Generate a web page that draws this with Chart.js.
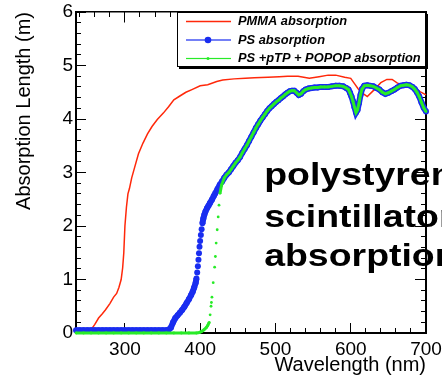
<!DOCTYPE html>
<html>
<head>
<meta charset="utf-8">
<script src="https://cdn.jsdelivr.net/npm/chart.js@4.4.0/dist/chart.umd.min.js"></script>
<style>
  html, body { margin: 0; padding: 0; background: #fff; }
  canvas { display: block; }
</style>
</head>
<body>
<canvas id="absChart" width="442" height="379"></canvas>
<script>
// axis labels
const xTickLabels = [300, 400, 500, 600, 700];
const yTickLabels = [0, 1, 2, 3, 4, 5, 6];

// PMMA absorption length (m) vs wavelength (nm)
const pmmaWl = [235, 245, 252, 256, 260, 265, 270, 274, 280, 285, 289, 292, 295, 297, 298.5,
  300, 302, 304, 306, 309, 313, 318, 324, 330, 336, 343, 351, 358, 365, 373, 381, 389,
  400, 410, 422, 430, 445, 460, 472, 490, 505, 516, 530, 545, 558, 570, 580, 592, 600,
  605, 610, 617, 622, 630, 640, 648, 655, 662, 670, 679, 686, 692, 700];
const pmmaAbs = [0.02, 0.02, 0.03, 0.08, 0.16, 0.28, 0.36, 0.43, 0.55, 0.67, 0.74, 0.85, 1.0, 1.22, 1.5,
  2.0, 2.35, 2.6, 2.7, 2.9, 3.1, 3.35, 3.55, 3.72, 3.86, 3.99, 4.11, 4.23, 4.36, 4.43, 4.5, 4.55,
  4.62, 4.64, 4.70, 4.73, 4.75, 4.76, 4.77, 4.78, 4.79, 4.80, 4.80, 4.76, 4.79, 4.82, 4.82, 4.78, 4.76,
  4.66, 4.56, 4.47, 4.42, 4.53, 4.68, 4.74, 4.74, 4.67, 4.64, 4.60, 4.57, 4.51, 4.45];

// plain polystyrene
const psWl = [235, 240, 245, 250, 255, 260, 265, 270, 275, 280, 285, 290, 295, 300, 305, 310,
  315, 320, 325, 330, 335, 340, 345, 350, 355, 358, 361, 364, 367, 370, 373, 376, 379, 382,
  385, 388, 390, 392, 394, 395, 396, 396.9, 397.7, 398.4, 399.1, 399.9, 400.9, 401.9, 403,
  404.2, 405.5, 407, 409, 411, 413, 415.5, 418, 420, 423, 426, 429, 432, 435, 438, 441, 444,
  447, 450, 453, 456, 459, 462, 465, 468, 471, 474, 477, 480, 483, 486, 489, 492, 495, 498,
  501, 504, 507, 510, 513, 516, 519, 522, 525, 528, 531, 534, 537, 540, 544, 548, 552, 556,
  560, 565, 570, 575, 580, 585, 590, 594, 597, 599, 601, 603, 605, 607, 609, 611, 613, 615,
  618, 622, 626, 630, 634, 638, 642, 646, 650, 654, 658, 662, 666, 670, 674, 678, 682, 685,
  688, 691, 694, 697, 700];
const psAbs = [0.05, 0.05, 0.05, 0.05, 0.05, 0.05, 0.05, 0.05, 0.05, 0.05, 0.05, 0.05, 0.05, 0.05, 0.05, 0.05,
  0.05, 0.05, 0.05, 0.05, 0.05, 0.05, 0.05, 0.05, 0.05, 0.06, 0.10, 0.20, 0.28, 0.33, 0.38, 0.43, 0.49, 0.56,
  0.63, 0.71, 0.77, 0.85, 0.94, 1.02, 1.13, 1.25, 1.37, 1.49, 1.61, 1.72, 1.83, 1.94, 2.05,
  2.14, 2.21, 2.27, 2.33, 2.38, 2.43, 2.49, 2.56, 2.61, 2.69, 2.77, 2.83, 2.90, 2.96, 3.00, 3.06, 3.12,
  3.18, 3.23, 3.29, 3.37, 3.44, 3.51, 3.59, 3.67, 3.75, 3.83, 3.90, 3.97, 4.03, 4.09, 4.15, 4.20, 4.24, 4.28,
  4.32, 4.35, 4.39, 4.42, 4.46, 4.49, 4.52, 4.53, 4.53, 4.49, 4.45, 4.47, 4.52, 4.55, 4.57, 4.58, 4.59, 4.59,
  4.60, 4.60, 4.60, 4.61, 4.62, 4.62, 4.61, 4.58, 4.55, 4.49, 4.42, 4.33, 4.22, 4.12, 4.17, 4.30, 4.45, 4.56,
  4.62, 4.63, 4.62, 4.61, 4.58, 4.55, 4.50, 4.47, 4.49, 4.52, 4.55, 4.59, 4.62, 4.63, 4.64, 4.63, 4.60, 4.56,
  4.50, 4.42, 4.31, 4.21, 4.14];

// polystyrene + pTP + POPOP
const wlsWl = [235, 245, 255, 265, 275, 285, 295, 305, 315, 325, 335, 345, 355, 365, 375, 385, 395,
  399, 402, 405, 408, 410, 412, 413.2, 414.4, 414.9, 415.6, 417.3, 419.2, 420.2, 421.2, 422.6,
  423.9, 425, 426.3, 428.5, 432, 435, 438, 441, 444, 447, 450, 453, 456, 459, 462, 465, 468,
  471, 474, 477, 480, 483, 486, 489, 492, 495, 498, 501, 504, 507, 510, 513, 516, 519, 522,
  525, 528, 531, 534, 537, 540, 544, 548, 552, 556, 560, 565, 570, 575, 580, 585, 590, 594,
  597, 599, 601, 603, 605, 607, 609, 611, 613, 615, 618, 622, 626, 630, 634, 638, 642, 646,
  650, 654, 658, 662, 666, 670, 674, 678, 682, 685, 688, 691, 694, 697, 700];
const wlsAbs = [0, 0, 0, 0, 0, 0, 0, 0, 0, 0, 0, 0, 0, 0, 0, 0, 0,
  0.01, 0.03, 0.06, 0.10, 0.14, 0.20, 0.34, 0.50, 0.57, 0.67, 0.94, 1.23, 1.43, 1.68, 1.93,
  2.17, 2.39, 2.61, 2.77, 2.90, 2.96, 3.00, 3.06, 3.12, 3.18, 3.23, 3.29, 3.37, 3.44, 3.51, 3.59, 3.67,
  3.75, 3.83, 3.90, 3.97, 4.03, 4.09, 4.15, 4.20, 4.24, 4.28, 4.32, 4.35, 4.39, 4.42, 4.46, 4.49, 4.52, 4.53,
  4.53, 4.49, 4.45, 4.47, 4.52, 4.55, 4.57, 4.58, 4.59, 4.59, 4.60, 4.60, 4.60, 4.61, 4.62, 4.62, 4.61, 4.58,
  4.55, 4.49, 4.42, 4.33, 4.22, 4.12, 4.17, 4.30, 4.45, 4.56, 4.62, 4.63, 4.62, 4.61, 4.58, 4.55, 4.50, 4.47,
  4.49, 4.52, 4.55, 4.59, 4.62, 4.63, 4.64, 4.63, 4.60, 4.56, 4.50, 4.42, 4.31, 4.21, 4.14];

const seriesNames = ['PMMA absorption', 'PS absorption', 'PS +pTP + POPOP absorption'];

// big caption inside the frame, anchored in data units
const noteLines = ['polystyrene', 'scintillator', 'absorption'];
const noteX = 485;
const noteY = [2.76, 1.99, 1.25];

// minor tick spacing
const xMinorTicks = [];
for (let w = 240; w <= 700; w += 20) xMinorTicks.push(w);
const yMinorTicks = [];
for (let k = 0; k <= 30; k++) yMinorTicks.push(k / 5);

const FAMILY = "'Liberation Sans', Arial, Helvetica, sans-serif";

function pairs(xs, ys) {
  return xs.map((v, i) => ({x: v, y: ys[i]}));
}

// glyphs here run a little wider than the font's own metrics
function wideText(ctx, text, x, y, wide) {
  ctx.save();
  ctx.translate(x, y);
  ctx.scale(wide, 1);
  ctx.fillText(text, 0, 0);
  ctx.restore();
}

function hLine(ctx, x1, x2, y, w) { ctx.fillRect(Math.min(x1, x2), y - w / 2, Math.abs(x2 - x1), w); }
function vLine(ctx, x, y1, y2, w) { ctx.fillRect(x - w / 2, Math.min(y1, y2), w, Math.abs(y2 - y1)); }

// where the curve climbs steeply only the markers show, no joining line
const steepGap = c => {
  const dx = c.p1.parsed.x - c.p0.parsed.x;
  const dy = c.p1.parsed.y - c.p0.parsed.y;
  return Math.abs(dy) > 0.095 * Math.abs(dx) ? 'rgba(0,0,0,0)' : undefined;
};

const RED = 'rgb(255,40,10)';
const BLUE = 'rgb(25,45,240)';
const GREEN = 'rgb(40,235,40)';

// an unlabeled axis pinned to one edge of the plot, used only for its
// tick marks; a negative length points the marks into the plot
function tickAxis(axis, at, values, len, edge) {
  return {
    type: 'linear',
    axis: axis,
    position: at,
    min: axis === 'x' ? 235 : 0,
    max: axis === 'x' ? 700 : 6,
    afterBuildTicks: s => { s.ticks = values.map(v => ({value: v})); },
    afterFit: s => { s.paddingLeft = 0; s.paddingRight = 0; s.paddingTop = 0; s.paddingBottom = 0; },
    grid: {display: true, drawOnChartArea: false, drawTicks: true, tickLength: len,
      color: '#000', tickColor: '#000', lineWidth: 1, tickWidth: 1},
    border: {display: !!edge, color: '#000', width: edge || 1},
    ticks: {display: false}
  };
}

function drawNote(chart) {
  const {ctx, scales: {x, y}} = chart;
  ctx.save();
  ctx.fillStyle = 'rgb(0,0,0)';
  ctx.font = 'bold 32px ' + FAMILY;
  ctx.textAlign = 'left';
  ctx.textBaseline = 'alphabetic';
  noteLines.forEach((t, i) => wideText(ctx, t, x.getPixelForValue(noteX), y.getPixelForValue(noteY[i]), 1.17));
  ctx.restore();
}

function drawKey(chart) {
  const {ctx, scales: {x, y}} = chart;
  const right = x.getPixelForValue(x.max);
  const box = {left: 177, top: y.getPixelForValue(y.max), width: right - 177, height: 55};
  ctx.save();
  ctx.fillStyle = 'rgb(0,0,0)';
  ctx.fillRect(box.left + 2, box.top + 2, box.width, box.height);
  ctx.fillStyle = 'rgb(255,255,255)';
  ctx.fillRect(box.left, box.top, box.width, box.height);
  ctx.fillStyle = 'rgb(0,0,0)';
  hLine(ctx, box.left, box.left + box.width, box.top + 0.5, 1);
  hLine(ctx, box.left, box.left + box.width, box.top + box.height - 0.5, 1);
  vLine(ctx, box.left + 0.5, box.top, box.top + box.height, 1);
  vLine(ctx, box.left + box.width - 0.5, box.top, box.top + box.height, 1);

  chart.data.datasets.forEach((ds, i) => {
    const cy = box.top + 9.5 + i * 18.5;
    ctx.fillStyle = ds.borderColor;
    hLine(ctx, 186, 231, cy, i === 0 ? 1.5 : 1.2);
    if (ds.legendDot) {
      ctx.fillStyle = ds.pointBackgroundColor;
      ctx.beginPath();
      ctx.arc(208, cy, ds.legendDot, 0, Math.PI * 2);
      ctx.fill();
    }
    ctx.fillStyle = 'rgb(0,0,0)';
    ctx.font = 'italic bold 12px ' + FAMILY;
    ctx.textAlign = 'left';
    ctx.textBaseline = 'middle';
    wideText(ctx, ds.label, 238, cy + 0.5, 1.07);
  });
  ctx.restore();
}

const rootStyle = {
  id: 'rootStyle',
  beforeDatasetsDraw(chart) {
    drawNote(chart);
  },
  afterDraw(chart) {
    drawKey(chart);
  }
};

const canvas = document.getElementById('absChart');
// plain software-backed 2d context
canvas.getContext('2d', {willReadFrequently: true});

new Chart(canvas, {
  type: 'scatter',
  data: {
    datasets: [{
      label: seriesNames[0],
      data: pairs(pmmaWl, pmmaAbs),
      xAxisID: 'x',
      yAxisID: 'y',
      showLine: true,
      borderColor: RED,
      borderWidth: 1.5,
      pointRadius: 0,
      legendDot: 0,
      clip: false,
      order: 2
    }, {
      label: seriesNames[1],
      data: pairs(psWl, psAbs),
      xAxisID: 'x',
      yAxisID: 'y',
      showLine: true,
      borderColor: BLUE,
      borderWidth: 6,
      pointRadius: 3,
      pointBorderWidth: 0,
      pointBackgroundColor: BLUE,
      legendDot: 3.3,
      segment: {borderColor: steepGap},
      clip: false,
      order: 1
    }, {
      label: seriesNames[2],
      data: pairs(wlsWl, wlsAbs),
      xAxisID: 'x',
      yAxisID: 'y',
      showLine: true,
      borderColor: GREEN,
      borderWidth: 3,
      pointRadius: 1.4,
      pointBorderWidth: 0,
      pointBackgroundColor: GREEN,
      legendDot: 1.5,
      segment: {borderColor: steepGap},
      clip: false,
      order: 0
    }]
  },
  options: {
    responsive: false,
    devicePixelRatio: 1,
    animation: false,
    layout: {padding: {top: 12, right: 16, left: 0, bottom: 0}},
    plugins: {
      legend: {display: false},
      tooltip: {enabled: false}
    },
    scales: {
      x: {
        type: 'linear',
        position: 'bottom',
        min: 235,
        max: 700,
        afterBuildTicks: s => { s.ticks = xTickLabels.map(v => ({value: v})); },
        afterFit: s => { s.height = 46; s.paddingLeft = 0; s.paddingRight = 0; },
        grid: {display: false, drawTicks: false},
        border: {display: true, color: '#000', width: 2},
        ticks: {color: '#000', font: {family: FAMILY, size: 19}, padding: 5, maxRotation: 0, autoSkip: false},
        title: {display: true, text: 'Wavelength (nm)', align: 'end', color: '#000',
          font: {family: FAMILY, size: 20}, padding: {top: 0, bottom: 2}}
      },
      y: {
        type: 'linear',
        position: 'left',
        min: 0,
        max: 6,
        afterBuildTicks: s => { s.ticks = yTickLabels.map(v => ({value: v})); },
        afterFit: s => { s.width = 76; s.paddingTop = 0; s.paddingBottom = 0; },
        grid: {display: false, drawTicks: false},
        border: {display: true, color: '#000', width: 2},
        ticks: {color: '#000', font: {family: FAMILY, size: 19}, padding: 3, autoSkip: false},
        title: {display: true, text: 'Absorption Length (m)', align: 'end', color: '#000',
          font: {family: FAMILY, size: 20}, padding: {top: 12, bottom: 0}}
      },
      xBottomMajor: tickAxis('x', {y: 0}, xTickLabels, -10),
      xBottomMinor: tickAxis('x', {y: 0}, xMinorTicks, -5),
      xTopMajor: tickAxis('x', {y: 6}, xTickLabels, 10, 1.5),
      xTopMinor: tickAxis('x', {y: 6}, xMinorTicks, 5),
      yLeftMajor: tickAxis('y', {x: 235}, yTickLabels, -10),
      yLeftMinor: tickAxis('y', {x: 235}, yMinorTicks, -5),
      yRightMajor: tickAxis('y', {x: 700}, yTickLabels, 10, 2),
      yRightMinor: tickAxis('y', {x: 700}, yMinorTicks, 5)
    }
  },
  plugins: [rootStyle]
});
</script>
</body>
</html>
